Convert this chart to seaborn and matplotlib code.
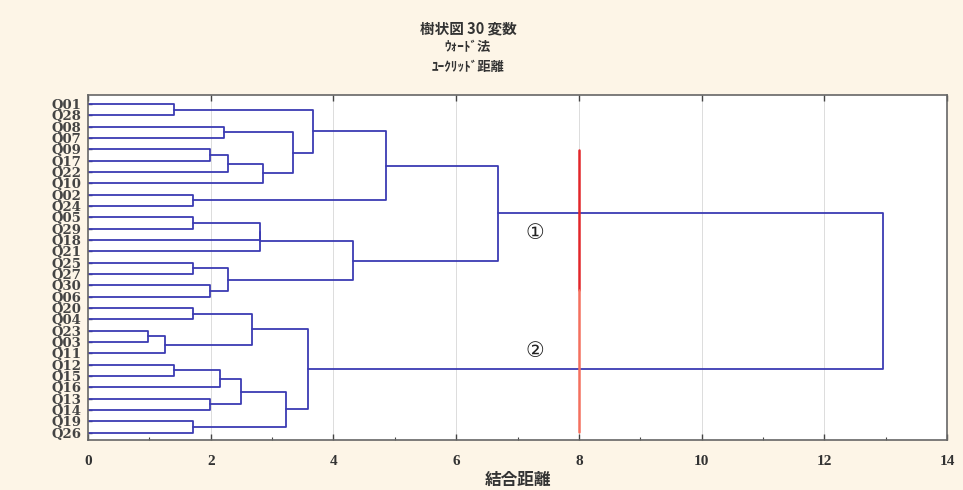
import numpy as np
import pandas as pd
import matplotlib
matplotlib.use("Agg")
import matplotlib.pyplot as plt
import seaborn as sns

# Leaf labels in dendrogram order (top to bottom)
labels = ["Q01", "Q28", "Q08", "Q07", "Q09", "Q17", "Q22", "Q10", "Q02", "Q24",
          "Q05", "Q29", "Q18", "Q21", "Q25", "Q27", "Q30", "Q06", "Q20", "Q04",
          "Q23", "Q03", "Q11", "Q12", "Q15", "Q16", "Q13", "Q14", "Q19", "Q26"]

# Ward linkage: merge i creates node 30+i from (left, right) at the given height
merge_left = [0, 2, 4, 32, 33, 31, 30, 8, 36, 10, 39, 40, 14, 16, 42, 41, 38,
              18, 20, 48, 47, 23, 51, 26, 52, 28, 54, 50, 46]
merge_right = [1, 3, 5, 6, 7, 34, 35, 9, 37, 11, 12, 13, 15, 17, 43, 44, 45,
               19, 21, 22, 49, 24, 25, 27, 53, 29, 55, 56, 57]
merge_height = [1.40, 2.21, 1.99, 2.28, 2.85, 3.34, 3.66, 1.71, 4.85, 1.71,
                2.80, 2.80, 1.71, 1.99, 2.28, 4.32, 6.68,
                1.71, 0.98, 1.25, 2.68, 1.40, 2.15, 1.99, 2.50, 1.71, 3.22,
                3.58, 12.95]

cut_distance = 8.0
cluster_names = ["①", "②"]

# ---- build the bracket segments ----
n = len(labels)
pos = {i: float(i) for i in range(n)}
hgt = {i: 0.0 for i in range(n)}
rows = []
for k, (a, b, h) in enumerate(zip(merge_left, merge_right, merge_height)):
    node = n + k
    xs = [hgt[a], h, h, hgt[b]]
    ys = [pos[a], pos[a], pos[b], pos[b]]
    for order, (x, y) in enumerate(zip(xs, ys)):
        rows.append({"seg": k, "order": order, "dist": x, "leaf": y})
    pos[node] = (pos[a] + pos[b]) / 2
    hgt[node] = h
segs = pd.DataFrame(rows)

sns.set_theme(style="white")
plt.rcParams["font.family"] = ["Noto Sans CJK JP", "DejaVu Sans"]

fig = plt.figure(figsize=(9.63, 4.90), dpi=100, facecolor="#fdf5e7")
ax = fig.add_axes([88 / 963, 1 - 440 / 490, (947 - 88) / 963, (440 - 95) / 490])
ax.set_facecolor("white")

for xg in range(2, 14, 2):
    ax.axvline(xg, color="#dcdcdc", lw=0.7, zorder=0)

sns.lineplot(data=segs, x="dist", y="leaf", units="seg", estimator=None,
             sort=False, color="#3b3bb3", lw=1.3, ax=ax, legend=False)

# cut line at the chosen distance
ax.plot([cut_distance, cut_distance], [4.05, 16.4], color="#e2262a", lw=1.8, zorder=3)
ax.plot([cut_distance, cut_distance], [16.4, 28.9], color="#f4705e", lw=1.8, zorder=3)

# cluster markers
for name, yy in zip(cluster_names, [11.4, 21.8]):
    ax.text(7.28, yy, name, ha="center", va="center", fontsize=15,
            family=["DejaVu Sans"], color="#222222")

ax.set_xlim(0, 14)
ax.set_ylim(29.65, -0.8)
ax.set_xticks(range(0, 15, 2))
ax.set_xticks(range(0, 15, 1), minor=True)
ax.set_xticklabels([str(v) for v in range(0, 15, 2)],
                   family="Liberation Serif", fontweight="bold", fontsize=11,
                   color="#333333")
ax.set_yticks(range(n))
ax.set_yticklabels(labels, family="DejaVu Serif", fontweight="bold",
                   fontsize=9.5, color="#444444")
ax.tick_params(axis="x", which="major", direction="in", length=4, top=True,
               bottom=True, width=1, color="#444444", pad=11)
ax.tick_params(axis="x", which="minor", direction="in", length=2.5, top=False,
               bottom=True, width=0.8, color="#444444")
ax.tick_params(axis="y", direction="in", length=3, left=True, width=1,
               color="#444444", pad=5)
for sp in ax.spines.values():
    sp.set_color("#666666")
    sp.set_linewidth(1.2)
ax.set_xlabel("結合距離", fontsize=12, fontweight="bold", color="#333333", labelpad=2)
ax.set_ylabel("")

fig.text(468 / 963, 1 - 28 / 490, "樹状図 30 変数", ha="center", va="center",
         fontsize=10.5, fontweight="bold", color="#333333")
fig.text(468 / 963, 1 - 47 / 490, "ｳｫｰﾄﾞ法", ha="center", va="center",
         fontsize=9.5, fontweight="bold", color="#333333")
fig.text(468 / 963, 1 - 67 / 490, "ﾕｰｸﾘｯﾄﾞ距離", ha="center", va="center",
         fontsize=9.5, fontweight="bold", color="#333333")

fig.savefig("out.png", dpi=100, facecolor=fig.get_facecolor())
